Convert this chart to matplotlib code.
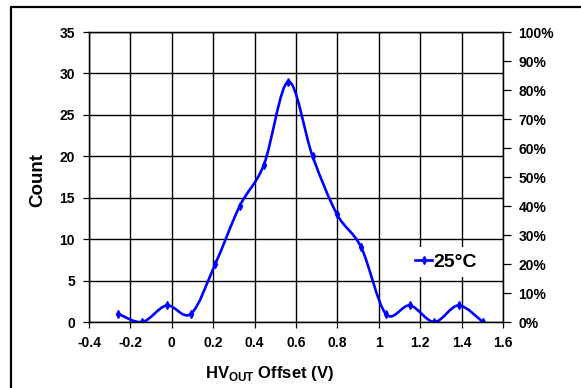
import numpy as np
import matplotlib.pyplot as plt
from matplotlib.path import Path
from matplotlib.patches import PathPatch
from matplotlib.lines import Line2D
from matplotlib.ticker import PercentFormatter

plt.rcParams["font.family"] = "Liberation Sans"
plt.rcParams["font.weight"] = "bold"
plt.rcParams["mathtext.fontset"] = "custom"
plt.rcParams["mathtext.rm"] = "Liberation Sans:bold"
plt.rcParams["mathtext.bf"] = "Liberation Sans:bold"

# histogram data
offset = [-0.26, -0.143, -0.025, 0.093, 0.21, 0.328, 0.445, 0.563,
          0.68, 0.798, 0.915, 1.033, 1.15, 1.268, 1.385, 1.503]
count = [1, 0, 2, 1, 7, 14, 19, 29, 20, 13, 9, 1, 2, 0, 2, 0]
series_label = "25°C"

x_ticks = [-0.4, -0.2, 0, 0.2, 0.4, 0.6, 0.8, 1, 1.2, 1.4, 1.6]
y_ticks = [0, 5, 10, 15, 20, 25, 30, 35]
pct_ticks = [0, 0.1, 0.2, 0.3, 0.4, 0.5, 0.6, 0.7, 0.8, 0.9, 1.0]

blue = "#0000ff"


def smooth_path(x, y):
    # excel style smoothed line: bezier segments through every point
    pts = np.column_stack([x, y]).astype(float)
    n = len(pts)
    verts = [pts[0]]
    codes = [Path.MOVETO]
    for i in range(n - 1):
        p0 = pts[max(i - 1, 0)]
        p1 = pts[i]
        p2 = pts[i + 1]
        p3 = pts[min(i + 2, n - 1)]
        verts += [p1 + (p2 - p0) / 6, p2 - (p3 - p1) / 6, p2]
        codes += [Path.CURVE4] * 3
    return Path(verts, codes)


fig = plt.figure(figsize=(5.81, 3.88), dpi=100, facecolor="w")
ax = fig.add_axes([0.1532, 0.1701, 0.7126, 0.7474])

ax.set_xlim(-0.4, 1.6)
ax.set_ylim(0, 35)
ax.set_xticks(x_ticks)
ax.set_xticklabels(["-0.4", "-0.2", "0", "0.2", "0.4", "0.6", "0.8", "1", "1.2", "1.4", "1.6"])
ax.set_yticks(y_ticks)
ax.grid(True, color="black", linewidth=1.0)
ax.set_axisbelow(True)
ax.tick_params(direction="out", length=4, width=0.9, labelsize=10, pad=6)
for s in ax.spines.values():
    s.set_linewidth(1.0)

patch = PathPatch(smooth_path(offset, count), facecolor="none", edgecolor=blue, linewidth=1.9, zorder=3)
ax.add_patch(patch)
ax.plot(offset, count, linestyle="none", marker="d", markersize=4, color=blue, zorder=4)

ax.set_xlabel(r"HV$_{\mathrm{OUT}}$ Offset (V)", fontsize=12, fontweight="bold")
ax.xaxis.set_label_coords(0.435, -0.145)
ax.set_ylabel("Count", fontsize=13.5, fontweight="bold")
ax.yaxis.set_label_coords(-0.125, 0.49)
ax.yaxis.label.set_va("center")

ax2 = ax.twinx()
ax2.set_ylim(0, 1)
ax2.set_yticks(pct_ticks)
ax2.yaxis.set_major_formatter(PercentFormatter(1, decimals=0))
ax2.tick_params(direction="out", length=6, width=0.9, labelsize=10, pad=5)

handle = Line2D([], [], color=blue, linewidth=1.9, marker="d", markersize=4)
leg = ax2.legend([handle], [series_label], loc="center", bbox_to_anchor=(0.863, 0.207),
                 fontsize=14, frameon=True, fancybox=False, framealpha=1,
                 handlelength=0.85, handletextpad=0.1, borderpad=0.3, borderaxespad=0)
leg.get_frame().set_edgecolor("none")
for t in leg.get_texts():
    t.set_fontweight("bold")

# border of the chart area (left and top edge visible)
fig.add_artist(Line2D([11 / 581, 11 / 581, 1], [0, 1 - 7 / 388, 1 - 7 / 388],
                      transform=fig.transFigure, color="black", linewidth=1.6))

plt.savefig("out.png", dpi=100)
